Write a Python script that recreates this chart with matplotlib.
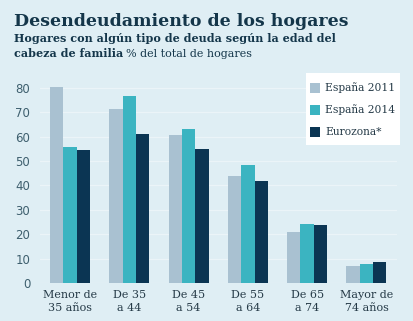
import numpy as np
import matplotlib.pyplot as plt
from matplotlib.patches import Rectangle

# Data (% of households)
groups = ["Menor de\n35 años", "De 35\na 44", "De 45\na 54", "De 55\na 64", "De 65\na 74", "Mayor de\n74 años"]
series_names = ["España 2011", "España 2014", "Eurozona*"]
espana_2011 = [80.4, 71.4, 60.5, 43.9, 21.0, 7.0]
espana_2014 = [55.6, 76.6, 63.1, 48.4, 24.3, 7.8]
eurozona = [54.5, 61.0, 54.9, 41.7, 23.9, 8.6]
yticks = [0, 10, 20, 30, 40, 50, 60, 70, 80]

colors = ["#a9c1d1", "#3bb4c1", "#0b3553"]
bg = "#dfeef4"
navy = "#14364a"
serif = ["DejaVu Serif"]

W, H = 414, 321
fig = plt.figure(figsize=(W / 100, H / 100), dpi=100, facecolor=bg)
ax = fig.add_axes([40 / W, 1 - 283 / H, 357 / W, 200 / H], facecolor=bg)

x = np.arange(len(groups))
bw = 0.225
for i, vals in enumerate([espana_2011, espana_2014, eurozona]):
    ax.bar(x + (i - 1) * bw, vals, width=bw, color=colors[i], zorder=3)

ax.set_xlim(-0.505, 5.515)
ax.set_ylim(0, 82)
ax.set_yticks(yticks)
ax.yaxis.grid(True, color="#ebf4f8", lw=0.9, zorder=0)
ax.tick_params(axis="y", length=0, pad=7, labelsize=8.5, labelcolor="#3e5f6e")
ax.set_xticks(x)
ax.set_xticklabels(groups, family=serif, fontsize=8.0, color="#253a47", linespacing=1.42)
ax.tick_params(axis="x", length=0, pad=5)
for s in ax.spines.values():
    s.set_visible(False)

# Title and subtitle
def px(xp, yp):
    return xp / W, 1 - yp / H

fig.text(*px(14, 26), "Desendeudamiento de los hogares", family=serif,
         fontweight="bold", fontsize=12.5, color=navy, va="baseline", ha="left")
fig.text(*px(14, 42), "Hogares con algún tipo de deuda según la edad del",
         family=serif, fontweight="bold", fontsize=8.0, color=navy, va="baseline", ha="left")
t1 = fig.text(*px(14, 57), "cabeza de familia", family=serif,
              fontweight="bold", fontsize=8.0, color=navy, va="baseline", ha="left")
fig.canvas.draw()
bb = t1.get_window_extent()
fig.text((bb.x1 + 3) / W, 1 - 57 / H, "% del total de hogares", family=serif,
         fontsize=8.0, color=navy, va="baseline", ha="left")

# Legend (white box, square swatches)
fig.patches.append(Rectangle(px(306, 145), 94 / W, 72 / H, transform=fig.transFigure,
                             facecolor="white", edgecolor="none", zorder=5))
for i, (name, c) in enumerate(zip(series_names, colors)):
    yc = 88 + 22 * i
    fig.patches.append(Rectangle(px(310, yc + 5), 10 / W, 10 / H, transform=fig.transFigure,
                                 facecolor=c, edgecolor="none", zorder=6))
    fig.text(*px(325, yc), name, family=serif, fontsize=7.7, color="#253a47",
             va="center", ha="left", zorder=7)

fig.savefig("out.png", dpi=100, facecolor=bg)
